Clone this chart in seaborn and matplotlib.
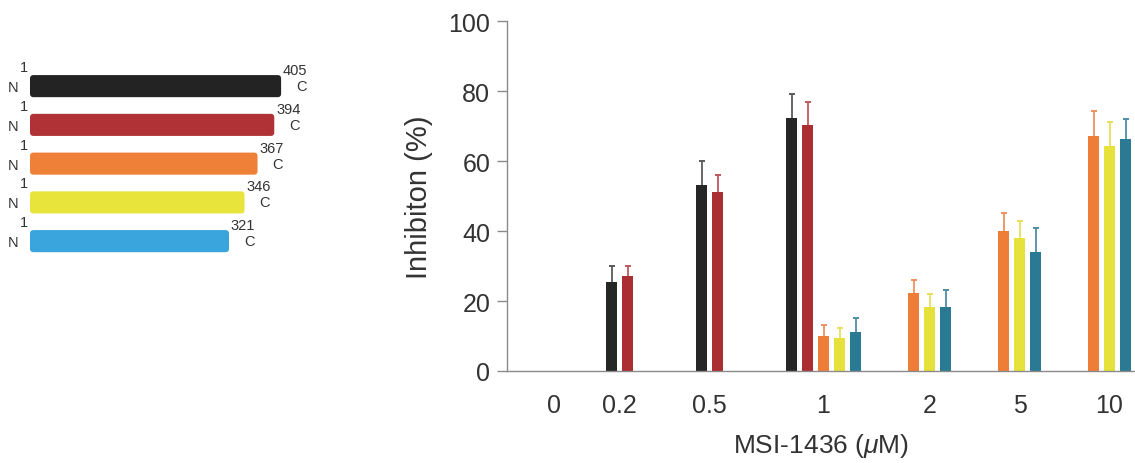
import numpy as np
import pandas as pd
import matplotlib
matplotlib.use('Agg')
import matplotlib.pyplot as plt
import seaborn as sns
from matplotlib.patches import FancyBboxPatch
from matplotlib.colors import to_rgba

# ---------------- data ----------------
doses = ['0', '0.2', '0.5', '1', '2', '5', '10']
constructs = ['1-405', '1-394', '1-367', '1-346', '1-321']
lengths = [405, 394, 367, 346, 321]
nan = np.nan
inhib_405 = [nan, 25.4, 53.2, 72.3, nan, nan, nan]
err_405 = [nan, 4.6, 6.8, 6.8, nan, nan, nan]
inhib_394 = [nan, 27.1, 51.2, 70.2, nan, nan, nan]
err_394 = [nan, 2.9, 4.8, 6.8, nan, nan, nan]
inhib_367 = [nan, nan, nan, 10.0, 22.2, 40.0, 67.2]
err_367 = [nan, nan, nan, 3.1, 3.8, 5.1, 7.1]
inhib_346 = [nan, nan, nan, 9.4, 18.2, 38.0, 64.2]
err_346 = [nan, nan, nan, 2.9, 3.8, 4.9, 6.9]
inhib_321 = [nan, nan, nan, 11.1, 18.2, 34.0, 66.3]
err_321 = [nan, nan, nan, 4.0, 4.9, 6.9, 5.7]

bar_colors = ['#262626', '#ab2e33', '#ee7e37', '#e7e23b', '#2a7a94']
err_colors = ['#5a5a5a', '#c0585c', '#f09060', '#e6e05a', '#4f8ea6']
diag_colors = ['#232323', '#b03236', '#ef8037', '#e8e43b', '#3aa5dc']

rows = []
for c, vals, errs in zip(constructs,
                         [inhib_405, inhib_394, inhib_367, inhib_346, inhib_321],
                         [err_405, err_394, err_367, err_346, err_321]):
    for d, v, e in zip(doses, vals, errs):
        if not np.isnan(v):
            rows.append(dict(dose=d, construct=c, inhibition=v, err=e))
df = pd.DataFrame(rows)

# ---------------- style ----------------
sns.set_theme(style='ticks')
plt.rcParams['font.family'] = ['Liberation Sans', 'DejaVu Sans']
plt.rcParams['mathtext.fontset'] = 'custom'
plt.rcParams['mathtext.it'] = 'Liberation Sans:italic'
plt.rcParams['mathtext.rm'] = 'Liberation Sans'
text_col = '#333333'
axis_col = '#8a8a8a'

W, H = 1135, 464
fig = plt.figure(figsize=(W / 100, H / 100), dpi=100)

# ---------------- main bar chart ----------------
ax = fig.add_axes([507 / W, 92 / H, 628 / W, 350 / H])
sns.barplot(data=df, x='dose', y='inhibition', hue='construct',
            order=doses, hue_order=constructs, palette=bar_colors,
            width=0.889, gap=0.31, errorbar=None, legend=False,
            saturation=1, linewidth=0, ax=ax)
ax.set_xlim(-0.517, 6.461)
ax.set_ylim(0, 100)

rgba_list = [np.array(to_rgba(c)) for c in bar_colors]
centers = {i: [] for i in range(len(doses))}
for p in list(ax.patches):
    cx = p.get_x() + p.get_width() / 2
    h = p.get_height()
    fc = np.array(p.get_facecolor())
    hi = int(np.argmin([np.abs(fc - r).sum() for r in rgba_list]))
    di = int(round(cx))
    row = df[(df['dose'] == doses[di]) & (df['construct'] == constructs[hi])]
    if len(row) == 0:
        continue
    e = float(row['err'].iloc[0])
    cont = ax.errorbar([cx], [h], yerr=[[0], [e]], fmt='none',
                       ecolor=err_colors[hi], elinewidth=1.3, capsize=2.2,
                       capthick=1.4, zorder=1)
    caps = cont.lines[1]
    if len(caps) == 2:
        caps[0].remove()   # keep only the upper cap
    centers[di].append(cx)

tick_pos = [np.mean(centers[i]) if centers[i] else i for i in range(len(doses))]
ax.set_xticks(tick_pos)
ax.set_xticklabels(doses)
ax.set_yticks([0, 20, 40, 60, 80, 100])

sns.despine(ax=ax, top=True, right=True)
for s in ['left', 'bottom']:
    ax.spines[s].set_color(axis_col)
    ax.spines[s].set_linewidth(1.0)
ax.tick_params(axis='y', length=7, width=1, color=axis_col, labelsize=18,
               pad=5, labelcolor=text_col)
ax.tick_params(axis='x', length=0, labelsize=18, pad=16, labelcolor=text_col)
ax.set_ylabel('Inhibiton (%)', fontsize=21, labelpad=11, color=text_col)
ax.set_xlabel(r'MSI-1436 ($\mu$M)', fontsize=19, labelpad=10, color=text_col)

# ---------------- construct diagram ----------------
xscale = 0.62   # px per residue
ax2 = fig.add_axes([30 / W, (H - 265) / H, 300 / W, 205 / H])
sns.barplot(x=lengths, y=constructs, hue=constructs, hue_order=constructs,
            order=constructs, palette=diag_colors, orient='h', width=0.57,
            legend=False, saturation=1, linewidth=0, ax=ax2)
ax2.set_xlim(0, 300 / xscale)
ax2.set_ylim(4.59, -0.70)
ax2.axis('off')
yscale = 205 / (4.59 + 0.70)
for p in list(ax2.patches):
    x0, y0, w, h = p.get_x(), p.get_y(), p.get_width(), p.get_height()
    fb = FancyBboxPatch((x0, y0), w, h,
                        boxstyle='round,pad=0,rounding_size=%f' % (3.5 / xscale),
                        mutation_aspect=xscale / yscale,
                        facecolor=p.get_facecolor(), edgecolor='none')
    p.remove()
    ax2.add_patch(fb)

for i, L in enumerate(lengths):
    kw = dict(textcoords='offset pixels', ha='center', va='center',
              fontsize=10.5, color=text_col, annotation_clip=False)
    ax2.annotate('N', (0, i), xytext=(-17, -1), **kw)
    ax2.annotate('1', (0, i), xytext=(-6, 19), **kw)
    ax2.annotate(str(L), (L, i), xytext=(14, 16), **kw)
    ax2.annotate('C', (L, i), xytext=(20, 0), **kw)

fig.savefig('out.png', dpi=100)
